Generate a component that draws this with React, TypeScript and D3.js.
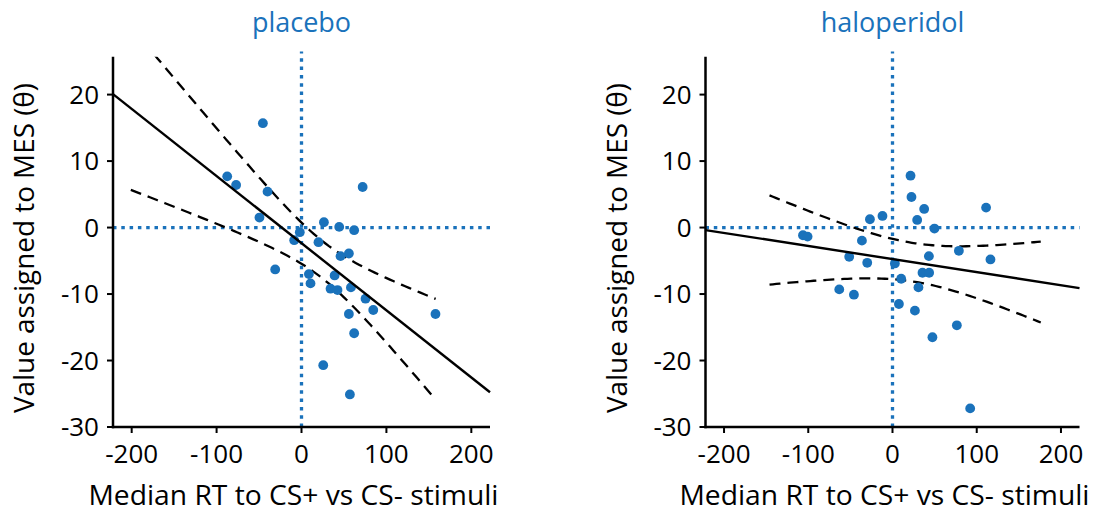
import React from "react";
import * as d3 from "d3";

// ---------- data ----------
const panelTitles = ["placebo", "haloperidol"];
const xTicks = [-200, -100, 0, 100, 200];
const yTicks = [-30, -20, -10, 0, 10, 20];
const xLabel = "Median RT to CS+ vs CS- stimuli";
const yLabel = "Value assigned to MES (θ)";

const placeboX = [-45.5, -87.5, -77, -40, -49.5, 72, 26.4, 44.4, 62, -2, -8.6, 20, 55.8, 46, -31, 8.7, 39, 10.6, 34.2, 42.4, 58.2, 75.4, 84.5, 55.8, 157.8, 62, 25.6, 57];
const placeboY = [15.7, 7.7, 6.4, 5.4, 1.5, 6.1, 0.8, 0.1, -0.4, -0.7, -1.9, -2.2, -3.9, -4.3, -6.3, -7.0, -7.2, -8.4, -9.2, -9.4, -9.0, -10.7, -12.4, -13.0, -13.0, -15.9, -20.7, -25.1];

const haloX = [21.4, 22.5, 37.6, 111.1, -11.9, -26.8, 29.3, 49.8, -106.3, -100.8, -36.3, 78.8, -51.4, 43.2, 116.3, -30, 2.8, 35.6, 43.5, 10.3, 30.8, -63.2, -45.8, 7.6, 26.6, 76.4, 47.4, 92.2];
const haloY = [7.8, 4.6, 2.8, 3.0, 1.75, 1.25, 1.15, -0.15, -1.16, -1.36, -1.97, -3.5, -4.4, -4.3, -4.8, -5.3, -5.4, -6.8, -6.8, -7.7, -9.0, -9.3, -10.1, -11.5, -12.5, -14.7, -16.5, -27.2];

// regression fit: [intercept, slope]
const placeboFit = [-2.35, -0.101];
const haloFit = [-4.74, -0.01965];
// confidence band: [min half-width, centre x, spread, x start, x end]
const placeboBand = [2.8, 25, 0.0529, -201, 158];
const haloBand = [2.9, 25, 0.0354, -146, 176];

const xDomain = [-222, 222];
const yDomain = [-30, 25.7];

const BLUE = "#1a72bb";
const FONT = "'Open Sans', 'Noto Sans', sans-serif";

type PanelProps = {
  title: string;
  xs: number[];
  ys: number[];
  fit: number[];
  band: number[];
  left: number;
  right: number;
  id: string;
};

function Panel({ title, xs, ys, fit, band, left, right, id }: PanelProps) {
  const top = 56.7;
  const bottom = 427;
  const x = d3.scaleLinear().domain(xDomain).range([left, right]);
  const y = d3.scaleLinear().domain(yDomain).range([bottom, top]);
  const [b0, b1] = fit;
  const [a, x0, s, xs0, xs1] = band;
  const hw = (v: number) => Math.sqrt(a * a + s * s * (v - x0) * (v - x0));
  const bx = d3.range(xs0, xs1 + 0.01, (xs1 - xs0) / 80);
  const line = d3
    .line<[number, number]>()
    .x((d) => x(d[0]))
    .y((d) => y(d[1]));
  const upper = line(bx.map((v) => [v, b0 + b1 * v + hw(v)]));
  const lower = line(bx.map((v) => [v, b0 + b1 * v - hw(v)]));
  const fitPath = line(xDomain.map((v) => [v, b0 + b1 * v]));
  const cx = (left + right) / 2;
  return (
    <g>
      <defs>
        <clipPath id={id}>
          <rect x={left} y={top} width={right - left} height={bottom - top} />
        </clipPath>
      </defs>
      <text x={cx} y={32} textAnchor="middle" fill={BLUE} fontSize={27} fontFamily={FONT}>
        {title}
      </text>
      {/* reference dotted lines */}
      <line x1={x(0)} x2={x(0)} y1={y(yDomain[0])} y2={y(26.5)} stroke={BLUE} strokeWidth={3.3} strokeDasharray="3.5 4.8" />
      <line x1={x(xDomain[0])} x2={x(xDomain[1])} y1={y(0)} y2={y(0)} stroke={BLUE} strokeWidth={3.3} strokeDasharray="3.5 4.8" />
      <g clipPath={`url(#${id})`}>
        <path d={upper || ""} fill="none" stroke="#000" strokeWidth={2.3} strokeDasharray="11 7" />
        <path d={lower || ""} fill="none" stroke="#000" strokeWidth={2.3} strokeDasharray="11 7" />
      </g>
      {xs.map((v, i) => (
        <circle key={i} cx={x(v)} cy={y(ys[i])} r={4.9} fill={BLUE} />
      ))}
      <path d={fitPath || ""} fill="none" stroke="#000" strokeWidth={2.4} />
      {/* axes */}
      <line x1={left} x2={left} y1={top} y2={bottom + 1.2} stroke="#000" strokeWidth={2.5} />
      <line x1={left - 1.2} x2={right} y1={bottom} y2={bottom} stroke="#000" strokeWidth={2.5} />
      {yTicks.map((t) => (
        <g key={"y" + t}>
          <line x1={left - 6} x2={left} y1={y(t)} y2={y(t)} stroke="#000" strokeWidth={2} />
          <text x={left - 14} y={y(t)} dy="0.36em" textAnchor="end" fontSize={26} fontFamily={FONT} fill="#000">
            {t}
          </text>
        </g>
      ))}
      {xTicks.map((t) => (
        <g key={"x" + t}>
          <line x1={x(t)} x2={x(t)} y1={bottom} y2={bottom + 6} stroke="#000" strokeWidth={2} />
          <text x={x(t)} y={463} textAnchor="middle" fontSize={26} fontFamily={FONT} fill="#000">
            {t}
          </text>
        </g>
      ))}
      <text x={cx - 8} y={505} textAnchor="middle" fontSize={27} fontFamily={FONT} fill="#000" textLength={410} lengthAdjust="spacingAndGlyphs">
        {xLabel}
      </text>
      <text
        transform={`translate(${left - 79},248) rotate(-90)`}
        textAnchor="middle"
        fontSize={27}
        fontFamily={FONT}
        fill="#000"
        textLength={330}
        lengthAdjust="spacingAndGlyphs"
      >
        {yLabel}
      </text>
    </g>
  );
}

export default function App() {
  return (
    <svg width={1106} height={523} style={{ position: "absolute", left: 0, top: 0, background: "#fff" }}>
      <rect width={1106} height={523} fill="#fff" />
      <Panel title={panelTitles[0]} xs={placeboX} ys={placeboY} fit={placeboFit} band={placeboBand} left={113} right={490} id="clipA" />
      <Panel title={panelTitles[1]} xs={haloX} ys={haloY} fit={haloFit} band={haloBand} left={705.5} right={1079.5} id="clipB" />
    </svg>
  );
}
